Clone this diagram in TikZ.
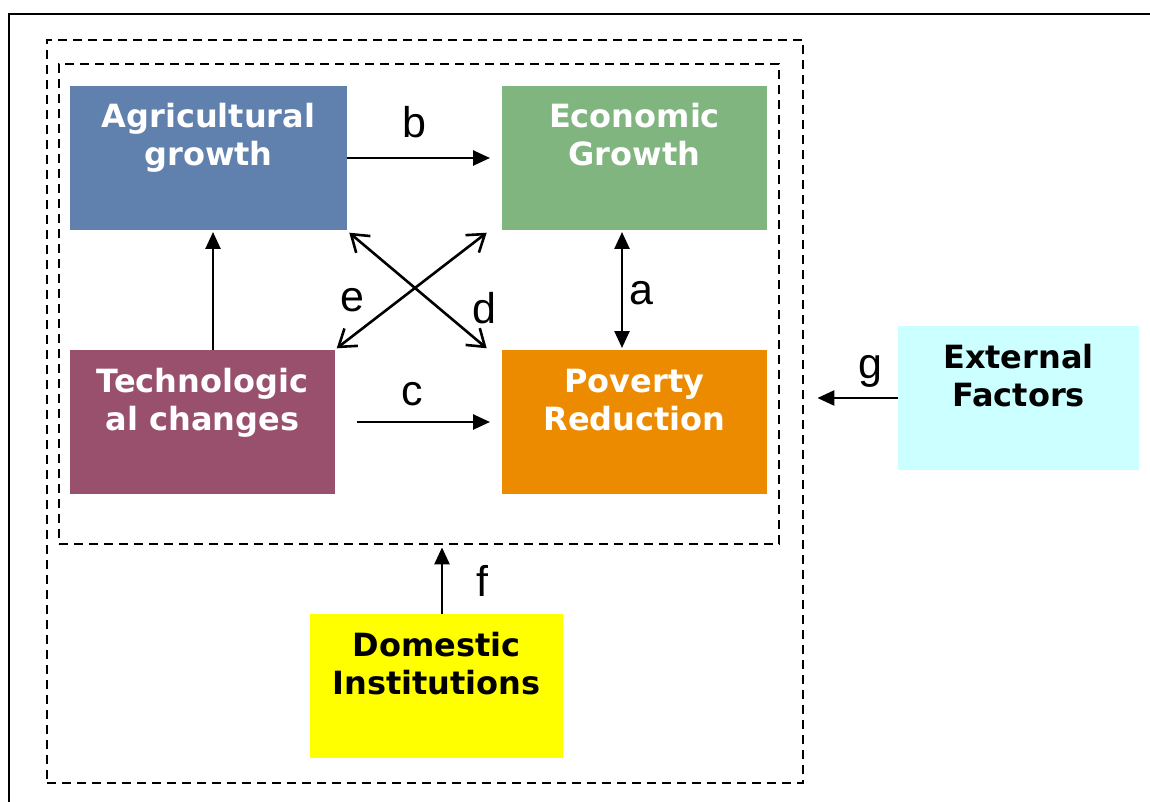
\documentclass[tikz,border=0pt]{standalone}
\usepackage{fontspec}
\setmainfont{DejaVu Sans}
\newfontfamily\lblfont{Liberation Sans}
\usetikzlibrary{arrows.meta}

\definecolor{agricol}{HTML}{6080AE}
\definecolor{econcol}{HTML}{80B580}
\definecolor{techcol}{HTML}{98506C}
\definecolor{povcol}{HTML}{EC8B00}
\definecolor{extcol}{HTML}{CCFFFF}
\definecolor{domcol}{HTML}{FFFF00}

% text of a box: first baseline 42pt below the top
\def\boxtext#1#2{\parbox[t][144pt][t]{#1}{\centering\rule{0pt}{42pt}#2}}

\tikzset{
	box/.style={anchor=north west, inner sep=0pt, outer sep=0pt, font=\fontsize{32}{38}\selectfont\bfseries},
	dashbox/.style={draw, line width=2.4pt, dash pattern=on 9pt off 6pt, anchor=north west, inner sep=0pt},
	lbl/.style={font=\lblfont\fontsize{43}{43}\selectfont, inner sep=0pt},
	solid arrow/.style={line width=2.6pt, -{Triangle[length=17pt,width=15pt]}},
	barb arrow/.style={line width=2.6pt, {Straight Barb[length=16pt,width=22pt]}-{Straight Barb[length=16pt,width=22pt]}}
}

\begin{document}
\begin{tikzpicture}[x=1pt, y=-1pt]
	\useasboundingbox (0,0) rectangle (1150,802);
	\clip (0,0) rectangle (1150,802);
	\draw[line width=2.6pt] (9,14) rectangle (1170,820);

	\node[dashbox, minimum width=756pt, minimum height=743pt] (outer) at (46,39) {};
	\node[dashbox, minimum width=720pt, minimum height=480pt] (inner) at (58,63) {};

	\node[box, fill=agricol, text=white] (agri) at (70,86) {\boxtext{277pt}{Agricultural\\growth}};
	\node[box, fill=econcol, text=white] (econ) at (502,86) {\boxtext{265pt}{Economic\\Growth}};
	\node[box, fill=techcol, text=white] (tech) at (70,350) {\boxtext{265pt}{Technologic\\al changes}};
	\node[box, fill=povcol, text=white] (pov) at (502,350) {\boxtext{265pt}{Poverty\\Reduction}};
	\node[box, fill=extcol] (ext) at (898,326) {\boxtext{241pt}{External\\Factors}};
	\node[box, fill=domcol] (dom) at (310,614) {\boxtext{253pt}{Domestic\\Institutions}};

	\draw[solid arrow, shorten >=12pt] (agri.east) -- (econ.west);
	\draw[solid arrow, shorten >=2pt] ([shift={(10.5,0)}]tech.north) -- ([shift={(10.5,0)}]tech.north |- agri.south);
	\draw[solid arrow, shorten <=22pt, shorten >=12pt] (tech.east) -- (pov.west);
	\draw[line width=2.6pt, {Triangle[length=17pt,width=15pt]}-{Triangle[length=17pt,width=15pt]}, shorten <=2pt, shorten >=2pt]
		([shift={(-12.5,0)}]econ.south) -- ([shift={(-12.5,0)}]pov.north);
	\draw[solid arrow, shorten >=2pt] ([shift={(5.5,0)}]dom.north) -- ([shift={(5.5,0)}]dom.north |- inner.south);
	\draw[solid arrow, shorten >=13pt] (ext.west) -- (ext.west -| outer.east);

	\draw[barb arrow] ([shift={(2.3,2.7)}]agri.south east) -- ([shift={(-15.3,-1.7)}]pov.north west);
	\draw[barb arrow] ([shift={(1.7,-1.7)}]tech.north east) -- ([shift={(-15.3,2.7)}]econ.south west);

	\node[lbl] (lb) at (414,122) {b};
	\node[lbl] (la) at (641,293.5) {a};
	\node[lbl] (le) at (352,300) {e};
	\node[lbl] (ld) at (484,308.5) {d};
	\node[lbl] (lc) at (412,394) {c};
	\node[lbl] (lf) at (482.5,581) {f};
	\node[lbl] (lg) at (870,371) {g};
\end{tikzpicture}
\end{document}
